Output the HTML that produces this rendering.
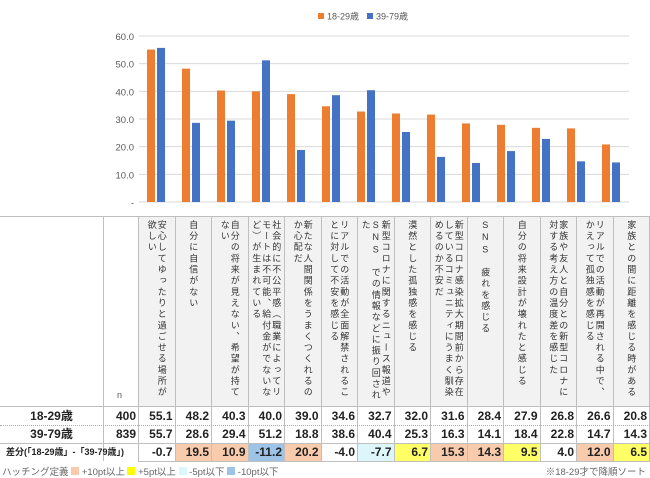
<!DOCTYPE html>
<html><head><meta charset="utf-8">
<style>
body{margin:0;width:650px;height:478px;background:#fff;font-family:"Liberation Sans","Noto Sans CJK JP",sans-serif;position:relative;overflow:hidden}
.abs{position:absolute}
.vwrap{position:absolute;top:220px;height:184px;display:flex;justify-content:center}
.vt{writing-mode:vertical-rl;text-orientation:upright;font-size:9px;letter-spacing:2.15px;line-height:10px;color:#333;white-space:nowrap;height:184px}
.num{position:absolute;font-size:12px;line-height:14px;font-weight:bold;color:#222;text-align:right}
.rl{position:absolute;font-size:12px;line-height:14px;font-weight:bold;color:#222;text-align:center}
</style></head><body>
<svg id="chart" class="abs" style="left:0;top:0" width="650" height="216"></svg>
<div id="table"></div>
<script>
const categories=["安心してゆったりと過ごせる場所が\n欲しい","自分に自信がない","自分の将来が見えない、希望が持て\nない","社会的に不公平感（職業によってリ\nモートは不可能、給付金がでないな\nど）が生まれている","新たな人間関係をうまくつくれるの\nか心配だ","リアルでの活動が全面解禁されるこ\nとに対して不安を感じる","新型コロナに関するニュース報道や\nSNS　での情報などに振り回され\nた","漠然とした孤独感を感じる","新型コロナ感染拡大期間前から存在\nしているコミュニティにうまく馴染\nめるのか不安だ","SNS　疲れを感じる","自分の将来設計が壊れたと感じる","家族や友人と自分との新型コロナに\n対する考え方の温度差を感じた","リアルでの活動が再開される中で、\nかえって孤独感を感じる","家族との間に距離を感じる時がある"];
const young=[55.1,48.2,40.3,40.0,39.0,34.6,32.7,32.0,31.6,28.4,27.9,26.8,26.6,20.8];
const old=[55.7,28.6,29.4,51.2,18.8,38.6,40.4,25.3,16.3,14.1,18.4,22.8,14.7,14.3];
const diffs=[-0.7,19.5,10.9,-11.2,20.2,-4.0,-7.7,6.7,15.3,14.3,9.5,4.0,12.0,6.5];
const ticks=[0,10,20,30,40,50,60];
const nYoung=400,nOld=839;
const NS="http://www.w3.org/2000/svg";
const svg=document.getElementById('chart');
const y0=202,yTop=36,yMax=60;
const yS=v=>y0-(v/yMax)*(y0-yTop);
const px0=139,gw=35;
function mk(t,a){const e=document.createElementNS(NS,t);for(const k in a)e.setAttribute(k,a[k]);svg.appendChild(e);return e;}
ticks.forEach(t=>{
 const g=mk('line',{x1:px0,x2:629,y1:yS(t),y2:yS(t),stroke:'#d9d9d9','stroke-width':1});
 
 
 const tx=mk('text',{x:134,y:yS(t)+4,'text-anchor':'end','font-size':9.5,fill:'#595959'});
 tx.textContent=t===0?'-':t.toFixed(1);
 
 
});
young.forEach((v,i)=>{
 const b=mk('rect',{x:px0+i*gw+8,y:yS(v),width:8,height:y0-yS(v),fill:'#ED7D31'});
 
 
});
old.forEach((v,i)=>{
 const b=mk('rect',{x:px0+i*gw+18,y:yS(v),width:8,height:y0-yS(v),fill:'#4472C4'});
 
 
});
[[318,'#ED7D31','18-29歳','legend-entry-18-29'],[367,'#4472C4','39-79歳','legend-entry-39-79']].forEach(l=>{
 const r=mk('rect',{x:l[0],y:13,width:6,height:6,fill:l[1]});
 
 
 const t=mk('text',{x:l[0]+9,y:19.5,'font-size':9,fill:'#595959'});
 t.textContent=l[2];
 
 
});
const tb=document.getElementById('table');
const cx0=138,cw=36.5,tTop=216,hb=406,r1=425,r2=443,r3=461;
let h='';
h+=`<div class="abs" style="left:0;top:${tTop}px;width:650px;height:1px;background:#bfbfbf"></div>`;
h+=`<div class="abs" style="left:103px;top:${tTop}px;width:1px;height:${r3-tTop}px;background:#bfbfbf"></div>`;
for(let i=0;i<=14;i++){h+=`<div class="abs" style="left:${cx0+i*cw}px;top:${tTop}px;width:1px;height:${r3-tTop}px;background:#bfbfbf"></div>`;}
for(let i=0;i<14;i++){h+=`<div class="abs" style="left:${cx0+i*cw+1}px;top:${tTop+1}px;width:${cw-1}px;height:${hb-tTop-1}px;background:#f2f2f2"></div>`;}
h+=`<div class="abs" style="left:0;top:${hb}px;width:650px;height:1px;background:#bfbfbf"></div>`;
h+=`<div class="abs" style="left:0;top:${r1}px;width:650px;height:0;border-top:1px dotted #aaa"></div>`;
h+=`<div class="abs" style="left:0;top:${r2}px;width:650px;height:1px;background:#bfbfbf"></div>`;
h+=`<div class="abs" style="left:${cx0}px;top:${r3}px;width:${650-cx0}px;height:1px;background:#bfbfbf"></div>`;
h+=`<div class="abs" style="left:117px;top:390px;font-size:9px;color:#555">n</div>`;
categories.forEach((c,i)=>{
 h+=`<div class="vwrap" style="left:${cx0+i*cw+1}px;width:${cw-1}px;"><div class="vt">${c.replace(/\n/g,'<br>')}</div></div>`;
});
function diffColor(d){if(d>=10)return'#F8CBAD';if(d>=5)return'#FFFF66';if(d<=-10)return'#9DC3E6';if(d<=-5)return'#DDF6FB';return'transparent';}
diffs.forEach((d,i)=>{h+=`<div class="abs" style="left:${cx0+i*cw+1}px;top:${r2+1}px;width:${cw-1}px;height:${r3-r2-1}px;background:${diffColor(d)}"></div>`;});
h+=`<div class="rl" style="left:0;top:${hb+3}px;width:103px">18-29歳</div>`;
h+=`<div class="rl" style="left:0;top:${r1+2}px;width:103px">39-79歳</div>`;
h+=`<div class="abs" style="left:6px;top:${r2+4}px;font-size:9px;line-height:11px;font-weight:bold;color:#222;white-space:nowrap">差分(「18-29歳」-「39-79歳」)</div>`;
h+=`<div class="num" style="left:103px;top:${hb+3}px;width:33px">${nYoung}</div>`;
h+=`<div class="num" style="left:103px;top:${r1+2}px;width:33px">${nOld}</div>`;
young.forEach((v,i)=>{h+=`<div class="num" style="left:${cx0+i*cw}px;top:${hb+3}px;width:${cw-2}px">${v.toFixed(1)}</div>`;});
old.forEach((v,i)=>{h+=`<div class="num" style="left:${cx0+i*cw}px;top:${r1+2}px;width:${cw-2}px">${v.toFixed(1)}</div>`;});
diffs.forEach((v,i)=>{h+=`<div class="num" style="left:${cx0+i*cw}px;top:${r2+2}px;width:${cw-2}px">${v.toFixed(1)}</div>`;});
h+=`<div class="abs" style="left:2px;top:464px;font-size:9.5px;color:#666;white-space:nowrap">ハッチング定義 <span style="display:inline-block;width:8px;height:8px;background:#F8CBAD"></span> +10pt以上 <span style="display:inline-block;width:8px;height:8px;background:#FFFF00"></span> +5pt以上 <span style="display:inline-block;width:8px;height:8px;background:#DDF6FB"></span> -5pt以下 <span style="display:inline-block;width:8px;height:8px;background:#9DC3E6"></span> -10pt以下</div>`;
h+=`<div class="abs" style="right:4px;top:464px;font-size:9.5px;color:#666">※18-29才で降順ソート</div>`;
tb.innerHTML=h;
</script>
</body></html>
